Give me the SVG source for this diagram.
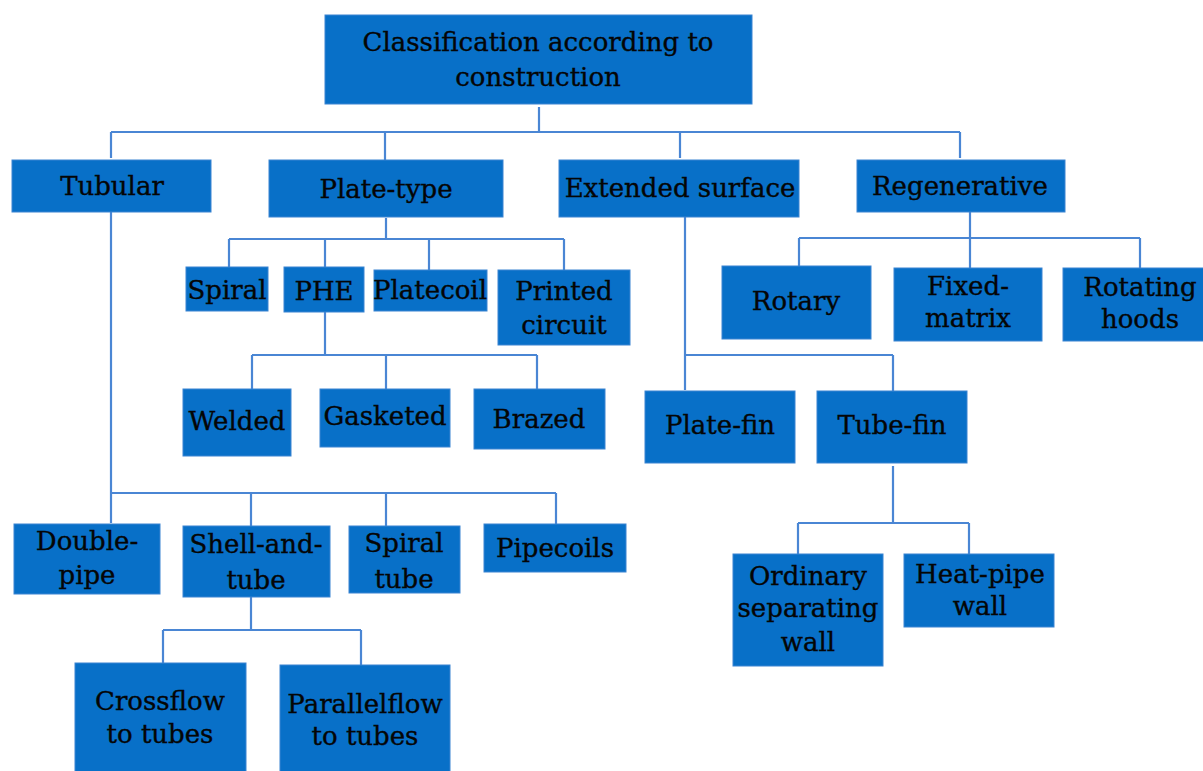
<svg xmlns="http://www.w3.org/2000/svg" width="1203" height="771" viewBox="0 0 1203 771">
<style>
.b{fill:#0870c8;stroke:#3a84d2;stroke-width:1}
.t{font-family:"DejaVu Serif","Liberation Serif",serif;font-size:26px;fill:#050505;stroke:#050505;stroke-width:0.35;text-anchor:middle}
.c{fill:none;stroke:#4a86d4;stroke-width:2.2}
</style>
<rect width="1203" height="771" fill="#fff"/>
<g id="connectors" class="c">
<path d="M539 107V132M111 132H960M111 132V158M385 132V160M680 132V158M960 132V158"/>
<path d="M386 218V239M229 239H564M229 239V268M325 239V268M429 239V270M564 239V270"/>
<path d="M325 312V355M252 355H537M252 355V389M386 355V389M537 355V389"/>
<path d="M970 212V238M799 238H1140M799 238V266M970 238V268M1140 238V268"/>
<path d="M685 217V390M685 355H893M893 355V391"/>
<path d="M893 466V523M798 523H969M798 523V554M969 523V554"/>
<path d="M111 212V523M111 493H556M251 493V526M386 493V526M556 493V524"/>
<path d="M251 597V630M163 630H361M163 630V663M361 630V665"/>
</g>
<g id="root"><rect class="b" x="325" y="15" width="427" height="89"/><text class="t" x="538" y="51">Classification according to</text><text class="t" x="538" y="86">construction</text></g>
<g id="tubular"><rect class="b" x="12" y="160" width="199" height="52"/><text class="t" x="112" y="195">Tubular</text></g>
<g id="plate-type"><rect class="b" x="269" y="160" width="234" height="57"/><text class="t" x="386" y="198">Plate-type</text></g>
<g id="extended"><rect class="b" x="559" y="160" width="240" height="57"/><text class="t" x="680" y="197">Extended surface</text></g>
<g id="regenerative"><rect class="b" x="857" y="160" width="208" height="52"/><text class="t" x="960" y="195">Regenerative</text></g>
<g id="spiral"><rect class="b" x="186" y="267" width="82" height="44"/><text class="t" x="227" y="299">Spiral</text></g>
<g id="phe"><rect class="b" x="284" y="267" width="80" height="45"/><text class="t" x="324" y="300">PHE</text></g>
<g id="platecoil"><rect class="b" x="374" y="270" width="113" height="41"/><text class="t" x="430" y="299">Platecoil</text></g>
<g id="printed"><rect class="b" x="498" y="270" width="132" height="75"/><text class="t" x="564" y="300">Printed</text><text class="t" x="564" y="334">circuit</text></g>
<g id="rotary"><rect class="b" x="722" y="266" width="149" height="73"/><text class="t" x="796" y="310">Rotary</text></g>
<g id="fixed"><rect class="b" x="894" y="268" width="148" height="73"/><text class="t" x="968" y="295">Fixed-</text><text class="t" x="968" y="327">matrix</text></g>
<g id="rotating"><rect class="b" x="1063" y="268" width="145" height="73"/><text class="t" x="1140" y="296">Rotating</text><text class="t" x="1140" y="328">hoods</text></g>
<g id="welded"><rect class="b" x="183" y="389" width="108" height="67"/><text class="t" x="237" y="430">Welded</text></g>
<g id="gasketed"><rect class="b" x="320" y="389" width="130" height="58"/><text class="t" x="385" y="425">Gasketed</text></g>
<g id="brazed"><rect class="b" x="474" y="389" width="131" height="60"/><text class="t" x="539" y="428">Brazed</text></g>
<g id="plate-fin"><rect class="b" x="645" y="391" width="150" height="72"/><text class="t" x="720" y="434">Plate-fin</text></g>
<g id="tube-fin"><rect class="b" x="817" y="391" width="150" height="72"/><text class="t" x="892" y="434">Tube-fin</text></g>
<g id="double-pipe"><rect class="b" x="14" y="524" width="146" height="70"/><text class="t" x="87" y="550">Double-</text><text class="t" x="87" y="584">pipe</text></g>
<g id="shell"><rect class="b" x="183" y="526" width="147" height="71"/><text class="t" x="256" y="553">Shell-and-</text><text class="t" x="256" y="589">tube</text></g>
<g id="spiral-tube"><rect class="b" x="349" y="526" width="111" height="67"/><text class="t" x="404" y="552">Spiral</text><text class="t" x="404" y="588">tube</text></g>
<g id="pipecoils"><rect class="b" x="484" y="524" width="142" height="48"/><text class="t" x="555" y="557">Pipecoils</text></g>
<g id="crossflow"><rect class="b" x="75" y="663" width="171" height="115"/><text class="t" x="160" y="710">Crossflow</text><text class="t" x="160" y="743">to tubes</text></g>
<g id="parallelflow"><rect class="b" x="280" y="665" width="170" height="115"/><text class="t" x="365" y="713">Parallelflow</text><text class="t" x="365" y="745">to tubes</text></g>
<g id="ordinary"><rect class="b" x="733" y="554" width="150" height="112"/><text class="t" x="808" y="585">Ordinary</text><text class="t" x="808" y="617">separating</text><text class="t" x="808" y="651">wall</text></g>
<g id="heat-pipe"><rect class="b" x="904" y="554" width="150" height="73"/><text class="t" x="980" y="583">Heat-pipe</text><text class="t" x="980" y="615">wall</text></g>
</svg>
